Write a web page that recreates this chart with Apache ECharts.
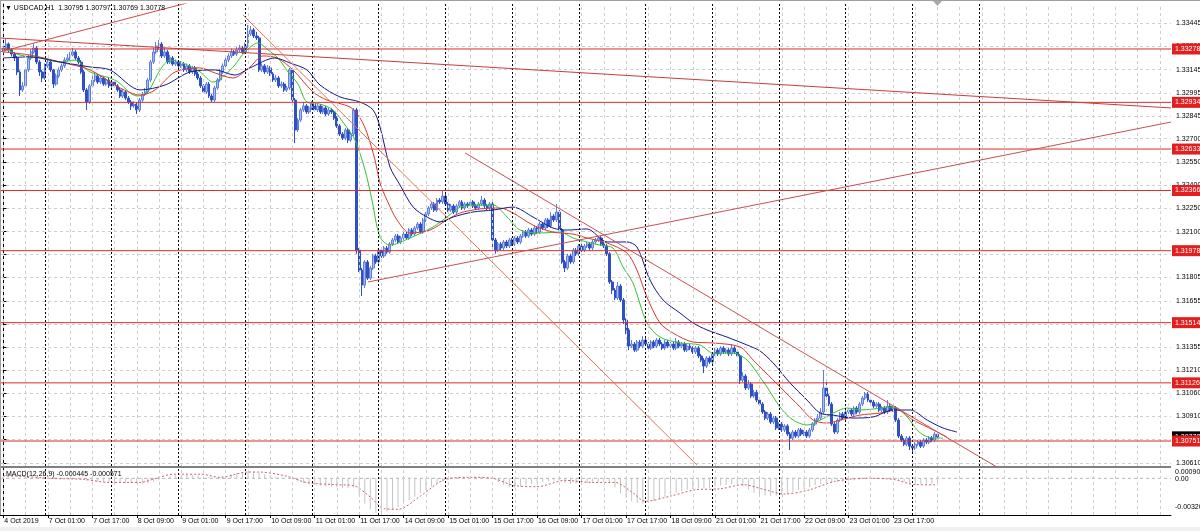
<!DOCTYPE html>
<html><head><meta charset="utf-8">
<script src="https://cdn.jsdelivr.net/npm/echarts@6/dist/echarts.min.js"></script>
<style>html,body{margin:0;padding:0;background:#fff;overflow:hidden}#c{width:1200px;height:531px}</style>
</head><body><div id="c"></div><script>
// ---------- DATA (prices stored as points: 33284 -> 1.33284) ----------
const symbolName = 'USDCAD,H1';
const timeLabels = ['4 Oct 2019','7 Oct 01:00','7 Oct 17:00','8 Oct 09:00','9 Oct 01:00','9 Oct 17:00','10 Oct 09:00','11 Oct 01:00','11 Oct 17:00','14 Oct 09:00','15 Oct 01:00','15 Oct 17:00','16 Oct 09:00','17 Oct 01:00','17 Oct 17:00','18 Oct 09:00','21 Oct 01:00','21 Oct 17:00','22 Oct 09:00','23 Oct 01:00','23 Oct 17:00'];
const priceTicks = [1.30610,1.30760,1.30910,1.31060,1.31210,1.31355,1.31505,1.31655,1.31805,1.31955,1.32100,1.32250,1.32400,1.32550,1.32700,1.32845,1.32995,1.33145,1.33295,1.33445];
const levelPrices = [1.33278,1.32934,1.32633,1.32366,1.31978,1.31514,1.31126,1.30751];

const opens = [
33260,33284,33310,33272,33246,33220,33130,33014, 33040,33143,33220,33259,33284,33194,33130,33091,
33169,33194,33143,33052,33104,33143,33169,33207, 33220,33239,33259,33220,33194,33130,33014,32936,
33040,33078,33104,33065,33091,33052,33078,33040, 33065,33040,33014,32975,33001,32962,32936,32911,
32923,32885,32949,32988,33001,33078,33194,33259, 33297,33310,33233,33259,33194,33220,33181,33194,
33169,33181,33143,33169,33130,33156,33117,33091, 33040,33001,33052,32975,32949,33027,33078,33130,
33169,33207,33233,33259,33246,33272,33285,33259, 33297,33375,33401,33362,33349,33143,33169,33130,
33156,33117,33078,33091,33040,33052,33014,33027, 33143,32949,32756,32820,32885,32911,32872,32898,
32923,32885,32911,32872,32898,32859,32885,32872, 32833,32782,32730,32704,32756,32691,32730,32885,
31982,31853,31756,31905,31801,31866,31944,31905, 31982,31944,31995,31969,32021,32047,32072,32034,
32060,32085,32060,32111,32085,32124,32150,32098, 32176,32214,32253,32279,32240,32304,32292,32330,
32279,32240,32266,32227,32266,32292,32253,32279, 32266,32292,32266,32253,32279,32304,32266,32253,
32279,32047,31982,32021,31995,32034,32008,32047, 32021,32060,32034,32072,32098,32072,32111,32085,
32124,32098,32150,32124,32176,32137,32201,32176, 32227,32111,31905,31866,31944,31905,31982,31958,
32008,31982,32008,32021,31995,32034,32047,32060, 32021,32008,31958,31776,31724,31673,31750,31660,
31531,31466,31363,31376,31337,31389,31363,31402, 31376,31350,31389,31363,31402,31376,31350,31389,
31363,31376,31350,31389,31363,31376,31337,31363, 31350,31325,31350,31299,31273,31234,31286,31260,
31312,31337,31312,31350,31325,31337,31312,31350, 31325,31299,31144,31170,31093,31118,31041,31065,
31015,30989,30938,30899,30925,30873,30899,30835, 30860,30822,30848,30796,30770,30809,30783,30822,
30796,30809,30783,30822,30860,30886,30899,30938, 31093,31041,30989,30860,30809,30886,30925,30899,
30938,30951,30925,30963,30938,30989,31028,31054, 31015,31002,30976,30989,30951,30963,30938,30976,
30951,30963,30886,30783,30757,30731,30770,30718, 30706,30731,30744,30718,30757,30744,30770,30757,30795];
const closes = [
33284,33310,33272,33246,33220,33130,33014,33040, 33143,33220,33259,33284,33194,33130,33091,33169,
33194,33143,33052,33104,33143,33169,33207,33220, 33239,33259,33220,33194,33130,33014,32936,33040,
33078,33104,33065,33091,33052,33078,33040,33065, 33040,33014,32975,33001,32962,32936,32911,32923,
32885,32949,32988,33001,33078,33194,33259,33297, 33310,33233,33259,33194,33220,33181,33194,33169,
33181,33143,33169,33130,33156,33117,33091,33040, 33001,33052,32975,32949,33027,33078,33130,33169,
33207,33233,33259,33246,33272,33285,33259,33297, 33375,33401,33362,33349,33143,33169,33130,33156,
33117,33078,33091,33040,33052,33014,33027,33143, 32949,32756,32820,32885,32911,32872,32898,32923,
32885,32911,32872,32898,32859,32885,32872,32833, 32782,32730,32704,32756,32691,32730,32885,31982,
31853,31756,31905,31801,31866,31944,31905,31982, 31944,31995,31969,32021,32047,32072,32034,32060,
32085,32060,32111,32085,32124,32150,32098,32176, 32214,32253,32279,32240,32304,32292,32330,32279,
32240,32266,32227,32266,32292,32253,32279,32266, 32292,32266,32253,32279,32304,32266,32253,32279,
32047,31982,32021,31995,32034,32008,32047,32021, 32060,32034,32072,32098,32072,32111,32085,32124,
32098,32150,32124,32176,32137,32201,32176,32227, 32111,31905,31866,31944,31905,31982,31958,32008,
31982,32008,32021,31995,32034,32047,32060,32021, 32008,31958,31776,31724,31673,31750,31660,31531,
31466,31363,31376,31337,31389,31363,31402,31376, 31350,31389,31363,31402,31376,31350,31389,31363,
31376,31350,31389,31363,31376,31337,31363,31350, 31325,31350,31299,31273,31234,31286,31260,31312,
31337,31312,31350,31325,31337,31312,31350,31325, 31299,31144,31170,31093,31118,31041,31065,31015,
30989,30938,30899,30925,30873,30899,30835,30860, 30822,30848,30796,30770,30809,30783,30822,30796,
30809,30783,30822,30860,30886,30899,30938,31093, 31041,30989,30860,30809,30886,30925,30899,30938,
30951,30925,30963,30938,30989,31028,31054,31015, 31002,30976,30989,30951,30963,30938,30976,30951,
30963,30886,30783,30757,30731,30770,30718,30706, 30731,30744,30718,30757,30744,30770,30757,30795,30778];
const highs = [
33300,33349,33320,33285,33259,33233,33140,33065, 33160,33240,33275,33310,33295,33207,33143,33185,
33215,33207,33150,33120,33160,33185,33225,33246, 33259,33285,33272,33233,33207,33143,33027,33052,
33104,33130,33117,33110,33104,33091,33091,33078, 33078,33052,33027,33020,33014,32975,32949,32940,
32936,32962,33001,33027,33091,33207,33285,33323, 33336,33323,33285,33272,33239,33233,33210,33207,
33200,33194,33185,33181,33169,33169,33130,33104, 33052,33065,33065,32988,33040,33091,33150,33185,
33225,33250,33280,33272,33290,33305,33297,33320, 33433,33426,33413,33388,33362,33185,33181,33175,
33169,33130,33110,33104,33070,33065,33040,33156, 33156,32962,32833,32898,32936,32923,32911,32940,
32936,32923,32923,32911,32911,32898,32898,32885, 32846,32794,32743,32769,32769,32743,32898,32898,
31995,31866,31918,31918,31880,31958,31958,31995, 31995,32008,32008,32034,32060,32085,32085,32072,
32098,32098,32124,32124,32137,32163,32163,32189, 32227,32266,32292,32292,32317,32317,32369,32343,
32292,32279,32279,32279,32304,32304,32292,32292, 32304,32304,32279,32292,32330,32317,32279,32292,
32292,32060,32034,32034,32047,32047,32060,32060, 32072,32072,32085,32111,32111,32124,32124,32137,
32137,32163,32163,32189,32189,32227,32214,32279, 32240,32124,31918,31958,31958,31995,31995,32021,
32021,32021,32034,32034,32047,32060,32072,32072, 32034,32021,31969,31789,31737,31776,31763,31673,
31543,31479,31402,31389,31402,31402,31427,31415, 31389,31402,31402,31415,31415,31389,31402,31402,
31389,31389,31415,31402,31389,31389,31376,31376, 31363,31363,31363,31312,31286,31299,31299,31325,
31350,31350,31363,31363,31350,31350,31376,31363, 31337,31312,31195,31183,31144,31131,31080,31080,
31028,31002,30951,30938,30938,30912,30912,30873, 30873,30860,30860,30809,30822,30822,30835,30835,
30822,30822,30835,30873,30899,30925,30963,31208, 31131,31054,31002,30873,30899,30938,30938,30951,
30963,30963,30976,30976,31002,31041,31067,31067, 31028,31015,31002,31002,30976,30976,31015,30989,
30976,30976,30899,30796,30770,30783,30783,30731, 30744,30757,30757,30770,30770,30783,30783,30809,30797];
const lows = [
33250,33272,33259,33230,33200,33110,32975,33001, 33030,33130,33207,33246,33180,33104,33065,33078,
33156,33130,33027,33040,33091,33130,33156,33194, 33207,33230,33207,33181,33117,33001,32885,32923,
33027,33065,33052,33052,33040,33040,33027,33027, 33027,33001,32962,32962,32949,32923,32885,32898,
32859,32872,32936,32975,32988,33065,33181,33246, 33272,33220,33220,33181,33181,33169,33169,33150,
33156,33130,33130,33117,33117,33104,33078,33027, 32988,32988,32962,32936,32936,33014,33065,33117,
33156,33194,33220,33233,33233,33259,33246,33246, 33285,33362,33349,33336,33130,33130,33117,33117,
33104,33065,33065,33027,33027,33001,33001,33014, 32936,32672,32743,32807,32872,32859,32859,32885,
32872,32872,32859,32859,32846,32846,32859,32820, 32769,32717,32691,32691,32672,32678,32717,31958,
31840,31686,31737,31789,31789,31853,31893,31893, 31931,31931,31958,31958,32008,32034,32021,32021,
32047,32047,32047,32072,32072,32111,32085,32085, 32163,32201,32240,32227,32227,32279,32279,32266,
32227,32227,32214,32214,32253,32240,32240,32253, 32253,32253,32240,32240,32266,32253,32240,32240,
31982,31958,31969,31982,31982,31995,31995,32008, 32008,32021,32021,32060,32060,32060,32072,32072,
32085,32085,32111,32111,32124,32124,32163,32163, 32098,31893,31840,31853,31893,31893,31944,31944,
31969,31969,31995,31982,31982,32021,32034,32008, 31995,31944,31763,31699,31660,31660,31647,31505,
31440,31337,31350,31325,31325,31350,31350,31363, 31337,31337,31350,31350,31363,31337,31337,31350,
31350,31337,31337,31350,31350,31325,31325,31337, 31312,31312,31286,31260,31189,31221,31247,31247,
31299,31299,31299,31312,31312,31299,31299,31312, 31286,31118,31131,31080,31080,31028,31028,31002,
30976,30925,30886,30886,30860,30860,30822,30822, 30809,30809,30783,30693,30757,30770,30770,30783,
30783,30770,30770,30809,30848,30873,30886,30925, 31028,30976,30848,30796,30796,30873,30886,30886,
30925,30912,30912,30925,30925,30976,31015,31002, 30989,30963,30963,30938,30938,30925,30925,30938,
30938,30873,30770,30744,30718,30718,30693,30673, 30693,30718,30706,30706,30731,30731,30744,30744,30769];

// moving averages: [bar index, price points]
const maFast = [[0,33285],[6,33239],[13.2,33220],[20.4,33194],[25.8,33207],[31.2,33130],[40.2,33078],[48.1,32975],[51.7,32994],[56.4,33143],[60,33207],[65.4,33181],[70.8,33130],[75.4,33065],[79.7,33110],[83.3,33175],[86.9,33259],[91.6,33317],[95.2,33272],[98.8,33220],[102.4,33130],[106,33052],[109.2,32936],[113.9,32923],[118.6,32885],[122.9,32788],[126.5,32691],[130.1,32498],[132.6,32304],[135.5,32066],[139.1,32014],[146.3,32060],[154.6,32131],[159.6,32195],[164.3,32259],[171.5,32272],[176.2,32272],[181.2,32195],[185.9,32111],[193.1,32092],[200.2,32098],[204.9,32060],[209.9,32034],[214.6,32014],[219.3,31995],[222.9,31873],[226.5,31769],[231.5,31512],[236.2,31421],[243.4,31383],[250.6,31370],[255.3,31318],[262.5,31318],[267.5,31273],[272.2,31163],[274.7,31099],[279.4,30970],[284.1,30886],[289.1,30854],[293.8,30886],[298.5,30931],[303.5,30964],[308.1,30951],[312.8,30957],[317.9,30970],[321.5,30964],[325.1,30906],[329.8,30803],[334.5,30770],[338,30770]];
const maMid = [[0,33259],[9.6,33239],[20.4,33194],[31.2,33143],[42,33027],[49.2,32981],[54.6,33014],[61.8,33130],[70.8,33156],[76.2,33123],[82.6,33091],[88.7,33162],[93.4,33233],[98.5,33220],[104.2,33143],[111.4,33001],[116.4,32949],[124.7,32904],[128.3,32833],[130.8,32737],[133.7,32562],[135.5,32414],[138,32304],[141.6,32176],[146.3,32092],[153.5,32111],[159.6,32176],[164.3,32221],[171.5,32247],[178.7,32253],[183.3,32221],[190.5,32143],[197.7,32098],[204.9,32085],[209.9,32060],[217.2,32027],[224.3,31963],[227.9,31853],[231.5,31679],[236.2,31512],[240.9,31447],[248.1,31389],[255.3,31383],[265,31357],[269.7,31273],[274,31196],[279.4,31099],[286.6,30970],[291.3,30886],[296.3,30867],[301,30886],[308.1,30918],[315.3,30931],[321.5,30951],[327.3,30886],[334.5,30822],[339.4,30777]];
const maSlow = [[0,33220],[9.6,33227],[20.4,33194],[31.2,33162],[38.4,33143],[49.2,33014],[58.2,33046],[67.2,33130],[76.2,33143],[83.3,33110],[88.7,33156],[97.7,33220],[103.1,33188],[109.2,33143],[113.9,33046],[121.1,32969],[128.3,32936],[133,32885],[135.5,32775],[139.1,32517],[142.7,32401],[147.4,32259],[152.4,32195],[157.1,32163],[161.8,32195],[168.9,32227],[176.2,32240],[183.3,32259],[190.5,32195],[197.7,32124],[202.8,32111],[209.9,32118],[217.2,32034],[224.3,32034],[227.9,32002],[232.6,31789],[237.3,31660],[243.4,31576],[248.1,31512],[253.1,31467],[260.3,31421],[267.5,31370],[272.2,31331],[276.9,31254],[283,31125],[289.1,31015],[293.8,30931],[298.5,30918],[305.6,30899],[312.8,30906],[320,30951],[326.2,30951],[332.3,30886],[338,30835],[343,30809]];

// trend lines: [bar index, price]
const trendA = [[-1.2,1.33349],[420,1.32898]];
const trendB = [[-1.2,1.33259],[66.1,1.33575]];
const trendC = [[86.2,1.33497],[249.5,1.30596]];
const trendD = [[166.1,1.32608],[357.4,1.30583]];
const trendE = [[131.2,1.31776],[420,1.32807]];

// MACD(12,26,9) main line, one value every 2 bars (units of 0.00001)
const macdHist = [8,6,2,-4,-2,4,6, 2,0,-6,-8,-6, -4,-2,-10,-22,-26,
-28,-30,-32,-34,-36,-38,-40,-42,-44,-40,-30, -12,4,18,26,30, 30,28,24,18,12, 8,10,20,34,
44,52,58,60,48, 36,26,16,8,0,-10,-22, -40,-52,-60,-66,-70,-74,-78,-82,-86,-80,
-150,-220,-270,-300,-305, -290,-270,-250, -220,-190,-160,-130,-100,-72,-48,-28,
-12,-2,4,8,10,10,8,6,4, -30,-60,-78,-80, -72,-60,-50,-40,-32,-26,-20,-18,
-40,-50,-48,-44,-40,-36,-34,-32,-40, -80,-130,-170,-200,-215,-220,-210,
-195,-180,-160,-140,-125,-110,-100,-92,-88,-86,-84, -72,-62,-55,-50,-48,-70,
-100,-125,-140,-150,-155,-152,-145,-135,-120, -105,-90,-75,-60,-50,-40,-35,-30,-28,
-22,-16,-10,-6,-2,0,2,0,-4,-14, -28,-38,-46,-50,-50,-48,-44.5];
// MACD signal line: [bar index, value in 0.00001]
const macdSignal = [[0,20],[6,18],[17,0],[29,-9],[38,-36],[49,-36],[55,0],[61,36],[71,36],[78,9],[88,55],[92,55],[102,18],[109,-36],[119,-55],[126,-64],[132,-164],[137,-264],[142,-270],[150,-155],[159,-9],[168,9],[176,0],[184,-64],[192,-73],[202,-18],[212,-36],[220,-36],[226,-118],[231,-200],[240,-155],[249,-100],[258,-91],[266,-55],[274,-100],[281,-137],[290,-100],[299,-27],[310,0],[320,-9],[328,-55],[336,-57.1]];
const macdScaleLabels = ['0.000902','0.00','-0.00320'];

// ---------- CHART ----------
const FONT = "'Liberation Sans',Arial,sans-serif";
const FS = 7;
const toP = v => 1 + v / 100000;
const last = closes.length - 1;
const candleData = closes.map((c, i) => [i, toP(opens[i]), toP(c), toP(lows[i]), toP(highs[i])]);
const maData = arr => arr.map(([i, v]) => [i, toP(v)]);
const X_MIN = -1.19, X_MAX = 420;
const Y_MIN = 1.30590, Y_MAX = 1.33568;
const labelBars = timeLabels.map((_, k) => k * 16);
const gridBars = []; for (let v = 0; v <= 416; v += 8) gridBars.push(v);
const sepBars = []; for (let v = 15; v <= 351; v += 24) sepBars.push(v);
const vLines = gridBars.map(v => ({xAxis: v, lineStyle: {color: '#cfcfcf', type: [3, 3], width: 1}}))
  .concat(sepBars.map(v => ({xAxis: v, lineStyle: {color: '#000', type: [2, 2], width: 1}})));
const ML = {silent: true, symbol: ['none', 'none'], precision: 6, label: {show: false}, animation: false, emphasis: {disabled: true}};
const trendStyle = c => ({type: 'line', xAxisIndex: 0, yAxisIndex: 0, symbol: 'none', silent: true, z: 6, lineStyle: {color: c, width: 1}});
const hiddenY = extra => Object.assign({gridIndex: 0, type: 'value', position: 'right', min: Y_MIN, max: Y_MAX,
  axisLine: {show: false}, axisTick: {show: false}, splitLine: {show: false}}, extra);
const levelSeries = levelPrices.map(p => ({type: 'line', xAxisIndex: 0, yAxisIndex: 0, data: [[X_MIN, p], [X_MAX, p]], symbol: 'none', silent: true, z: 5, lineStyle: {color: '#e02a2a', width: 1}}));

const chart = echarts.init(document.getElementById('c'));
const option = {
  animation: false,
  backgroundColor: '#ffffff',
  textStyle: {fontFamily: FONT},
  grid: [
    {left: 0, right: 29, top: 4, height: 462, outerBoundsMode: 'none', containLabel: false},
    {left: 0, right: 29, top: 468, height: 47, outerBoundsMode: 'none', containLabel: false}
  ],
  xAxis: [
    {gridIndex: 0, type: 'value', min: X_MIN, max: X_MAX, axisLine: {show: false}, axisTick: {show: false}, axisLabel: {show: false}, splitLine: {show: false}},
    {gridIndex: 1, type: 'value', min: X_MIN, max: X_MAX, axisLine: {show: true, onZero: false, lineStyle: {color: '#000', width: 1}},
      axisTick: {show: true, customValues: labelBars, length: 3, lineStyle: {color: '#000'}},
      axisLabel: {customValues: labelBars, formatter: v => timeLabels[Math.round(v / 16)] || '', align: 'left', padding: [0, 0, 0, 1], margin: 3, fontSize: FS, color: '#000', fontFamily: FONT, hideOverlap: false},
      splitLine: {show: false}}
  ],
  yAxis: [
    {gridIndex: 0, type: 'value', position: 'right', min: Y_MIN, max: Y_MAX,
      axisLine: {show: true, lineStyle: {color: '#000'}},
      axisTick: {show: true, customValues: priceTicks, length: 3, lineStyle: {color: '#000'}},
      axisLabel: {customValues: priceTicks, formatter: v => v.toFixed(5), fontSize: FS, color: '#000', margin: 5, fontFamily: FONT, hideOverlap: false},
      splitLine: {show: true, lineStyle: {color: '#cfcfcf', type: [3, 3]}}},
    hiddenY({axisLabel: {customValues: [toP(closes[last])], formatter: v => v.toFixed(5), fontSize: FS, color: '#fff', backgroundColor: '#000', padding: [2, 2, 2, 3], margin: 1, fontFamily: FONT, hideOverlap: false}}),
    hiddenY({axisLabel: {customValues: levelPrices, formatter: v => v.toFixed(5), fontSize: FS, color: '#fff', backgroundColor: '#e31e1e', padding: [2, 2, 2, 3], margin: 1, fontFamily: FONT, hideOverlap: false}}),
    {gridIndex: 1, type: 'value', position: 'right', min: -0.0032, max: 0.000902,
      axisLine: {show: true, lineStyle: {color: '#000'}}, axisTick: {show: false}, splitLine: {show: false}, axisLabel: {show: false}}
  ],
  series: [
    {type: 'line', xAxisIndex: 0, yAxisIndex: 0, data: [], z: 1, silent: true, markLine: Object.assign({data: vLines}, ML)},
    {type: 'line', xAxisIndex: 1, yAxisIndex: 3, data: [], z: 1, silent: true, markLine: Object.assign({data: vLines}, ML)},
    {type: 'line', xAxisIndex: 1, yAxisIndex: 3, data: [[X_MIN, 0], [X_MAX, 0]], z: 1, silent: true, symbol: 'none', lineStyle: {color: '#b4b4b4', type: [3, 3], width: 1}},
    {type: 'candlestick', name: symbolName, xAxisIndex: 0, yAxisIndex: 0, data: candleData, barWidth: 2.4, z: 3, silent: true,
      itemStyle: {color: '#a9bcee', color0: '#2f4fc4', borderColor: '#5f7fdc', borderColor0: '#2f4fc4', borderWidth: 1}},
    {type: 'line', xAxisIndex: 0, yAxisIndex: 0, data: maData(maFast), smooth: 0.3, symbol: 'none', silent: true, z: 4, lineStyle: {color: '#34c234', width: 1}},
    {type: 'line', xAxisIndex: 0, yAxisIndex: 0, data: maData(maMid), smooth: 0.3, symbol: 'none', silent: true, z: 4, lineStyle: {color: '#d73a2e', width: 1}},
    {type: 'line', xAxisIndex: 0, yAxisIndex: 0, data: maData(maSlow), smooth: 0.3, symbol: 'none', silent: true, z: 4, lineStyle: {color: '#17178a', width: 1}},
    ...levelSeries,
    Object.assign(trendStyle('#c83c3c'), {data: trendA}),
    Object.assign(trendStyle('#cc4a4a'), {data: trendB}),
    Object.assign(trendStyle('#de7458'), {data: trendC}),
    Object.assign(trendStyle('#c85050'), {data: trendD}),
    Object.assign(trendStyle('#c85050'), {data: trendE}),
    {type: 'bar', xAxisIndex: 1, yAxisIndex: 3, data: macdHist.map((v, k) => [k * 2, v / 100000]), barWidth: 1, silent: true, z: 2, itemStyle: {color: '#c4c4c4'}},
    {type: 'line', xAxisIndex: 1, yAxisIndex: 3, data: macdSignal.map(([i, v]) => [i, v / 100000]), smooth: 0.3, symbol: 'none', silent: true, z: 3, lineStyle: {color: '#c86464', width: 1, type: [2, 2]}}
  ],
  graphic: [
    {type: 'rect', silent: true, z: 0, shape: {x: 0, y: 527, width: 1200, height: 4}, style: {fill: '#f0f0f0'}},
    {type: 'rect', silent: true, z: 10, shape: {x: 0, y: 466, width: 1171, height: 2}, style: {fill: '#808080'}},
    {type: 'line', silent: true, z: 10, shape: {x1: 0.5, y1: 0, x2: 0.5, y2: 515}, style: {stroke: '#a0a0a0', lineWidth: 1}},
    {type: 'line', silent: true, z: 10, shape: {x1: 0, y1: 0.5, x2: 1200, y2: 0.5}, style: {stroke: '#a0a0a0', lineWidth: 1}},
    {type: 'polygon', silent: true, z: 10, shape: {points: [[933, 1], [942, 1], [937.5, 6]]}, style: {fill: '#a8a8a8'}},
    {type: 'text', silent: true, z: 10, x: 5, y: 5, style: {text: '\u25BC ' + symbolName + '  ' + [opens[last], highs[last], lows[last], closes[last]].map(v => toP(v).toFixed(5)).join(' '), font: FS + 'px ' + FONT, fill: '#000'}},
    {type: 'text', silent: true, z: 10, x: 6, y: 471, style: {text: 'MACD(12,26,9) ' + (macdHist[macdHist.length - 1] / 100000).toFixed(6) + ' ' + (macdSignal[macdSignal.length - 1][1] / 100000).toFixed(6), font: FS + 'px ' + FONT, fill: '#000'}},
    {type: 'text', silent: true, z: 10, x: 1175, y: 469, style: {text: macdScaleLabels[0], font: FS + 'px ' + FONT, fill: '#000'}},
    {type: 'text', silent: true, z: 10, x: 1175, y: 476, style: {text: macdScaleLabels[1], font: FS + 'px ' + FONT, fill: '#000'}},
    {type: 'text', silent: true, z: 10, x: 1175, y: 504, style: {text: macdScaleLabels[2], font: FS + 'px ' + FONT, fill: '#000'}}
  ]
};
chart.setOption(option);
</script></body></html>
